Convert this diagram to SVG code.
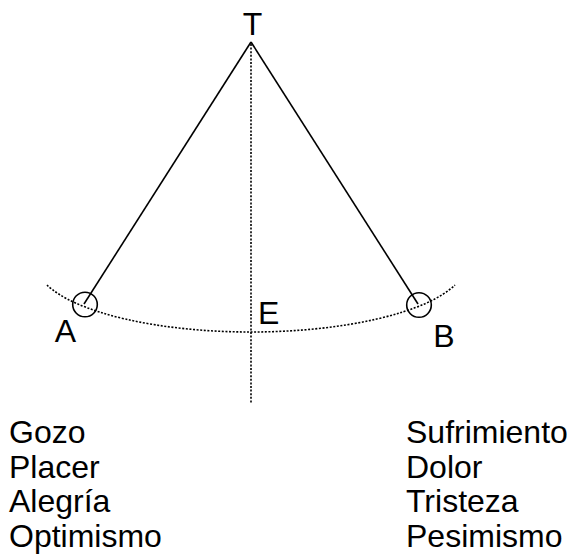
<svg xmlns="http://www.w3.org/2000/svg" width="567" height="556" viewBox="0 0 567 556">
<style>
text{font-family:"Liberation Sans",Arial,sans-serif;font-size:32px;fill:#000}
.solid{stroke:#000;stroke-width:1.6;fill:none}
.dot{stroke:#000;stroke-width:1.6;fill:none;stroke-dasharray:2 1.6}
</style>
<rect width="567" height="556" fill="#fff"/>
<g id="connectors">
<line class="dot" x1="251" y1="44" x2="251" y2="404"/>
<path class="dot" d="M47 285 A215 68.7 0 0 0 455 285"/>
<line class="solid" x1="251" y1="42" x2="84" y2="304"/>
<line class="solid" x1="251" y1="42" x2="418" y2="304"/>
</g>
<g id="T"><text x="252.5" y="35" text-anchor="middle">T</text></g>
<g id="A"><circle class="solid" cx="85" cy="304.5" r="12.3"/><text x="65.5" y="342" text-anchor="middle">A</text></g>
<g id="B"><circle class="solid" cx="419" cy="305" r="12.3"/><text x="444" y="347" text-anchor="middle">B</text></g>
<g id="E"><text x="258" y="324">E</text></g>
<g id="left-list">
<text x="9" y="443">Gozo</text>
<text x="9" y="477.5">Placer</text>
<text x="9" y="512">Alegría</text>
<text x="9" y="546.5">Optimismo</text>
</g>
<g id="right-list">
<text x="406" y="443">Sufrimiento</text>
<text x="406" y="477.5">Dolor</text>
<text x="406" y="512">Tristeza</text>
<text x="406" y="546.5">Pesimismo</text>
</g>
</svg>
